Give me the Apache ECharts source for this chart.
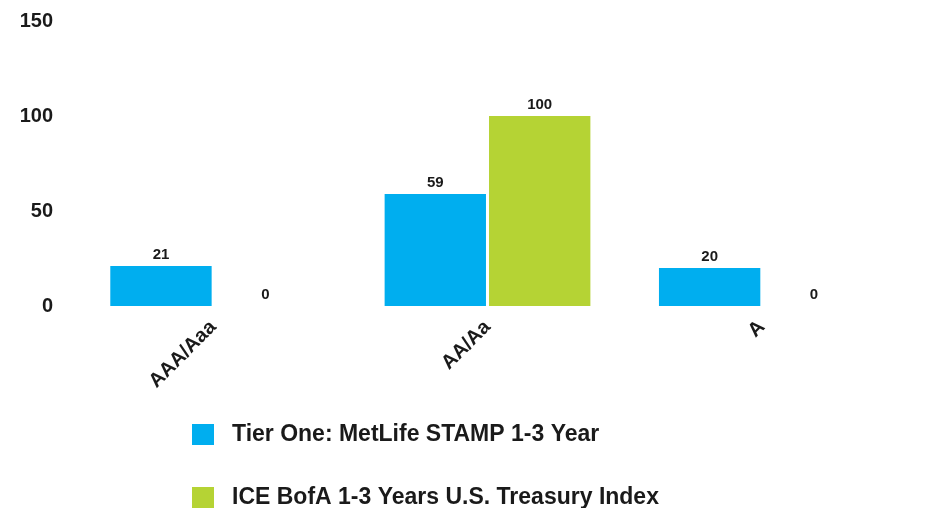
<!DOCTYPE html>
<html>
<head>
<meta charset="utf-8">
<script src="https://cdn.jsdelivr.net/npm/echarts@6/dist/echarts.min.js"></script>
<style>
  html, body { margin: 0; padding: 0; background: #fff; }
  #main { width: 939px; height: 508px; }
</style>
</head>
<body>
<div id="main"></div>
<script>
// ratings and values
const categories = ["AAA/Aaa", "AA/Aa", "A"];
const tierOne = [21, 59, 20];
const iceBofa = [0, 100, 0];
const seriesNames = ["Tier One: MetLife STAMP 1-3 Year", "ICE BofA 1-3 Years U.S. Treasury Index"];
const yTicks = [0, 50, 100, 150];

const font = "'Liberation Sans', Arial, sans-serif";
const chart = echarts.init(document.getElementById("main"));

const labelStyle = {
  show: true,
  position: "top",
  distance: 4,
  fontFamily: font,
  fontWeight: "bold",
  fontSize: 15,
  color: "#1a1a1a"
};

// one legend per row, stacked like the original
function legendRow(name, top) {
  return {
    orient: "vertical",
    left: 187,
    top: top,
    itemWidth: 22,
    itemHeight: 21,
    icon: "rect",
    textStyle: { fontFamily: font, fontWeight: "bold", fontSize: 23, color: "#1a1a1a", padding: [0, 0, 0, 13] },
    data: [name]
  };
}

chart.setOption({
  animation: false,
  grid: { left: 76, right: 40, top: 21, bottom: 202 },
  legend: [legendRow(seriesNames[0], 418), legendRow(seriesNames[1], 481)],
  xAxis: {
    type: "category",
    data: categories,
    axisLine: { show: false },
    axisTick: { show: false },
    axisLabel: {
      rotate: 45,
      margin: 18,
      fontFamily: font,
      fontWeight: "bold",
      fontSize: 20,
      color: "#1a1a1a"
    }
  },
  yAxis: {
    type: "value",
    min: yTicks[0],
    max: yTicks[yTicks.length - 1],
    interval: 50,
    splitLine: { show: false },
    axisLine: { show: false },
    axisTick: { show: false },
    axisLabel: {
      margin: 23,
      fontFamily: font,
      fontWeight: "bold",
      fontSize: 20,
      color: "#1a1a1a"
    }
  },
  series: [
    {
      name: seriesNames[0],
      type: "bar",
      data: tierOne,
      barGap: "3%",
      barCategoryGap: "25%",
      itemStyle: { color: "#00AEEF" },
      label: labelStyle
    },
    {
      name: seriesNames[1],
      type: "bar",
      data: iceBofa,
      itemStyle: { color: "#B5D334" },
      label: labelStyle
    }
  ]
});
</script>
</body>
</html>
